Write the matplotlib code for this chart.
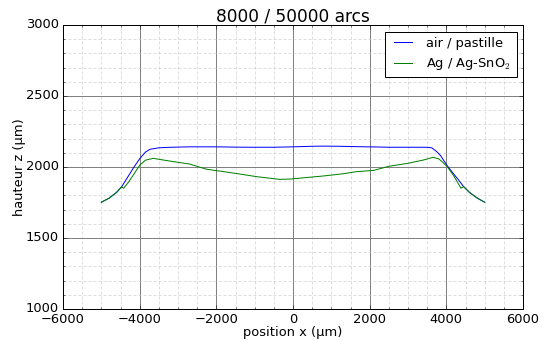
import numpy as np
import matplotlib
matplotlib.use('Agg')
import matplotlib.pyplot as plt
from matplotlib.ticker import MultipleLocator

plt.style.use('classic')
plt.rcParams['font.size'] = 13

# air / pastille
x_air = [-5000, -4800, -4600, -4470, -4300, -4150, -4000, -3850, -3730, -3500,
         -3200, -2700, -2000, -1500, -1100, -500, 0, 500, 800, 1200,
         1700, 2200, 2500, 3000, 3500, 3620, 3750, 3850, 4010, 4150,
         4300, 4450, 4600, 4800, 5000]
z_air = [1752, 1780, 1822, 1861, 1934, 1999, 2058, 2105, 2125, 2135,
         2139, 2142, 2142, 2140, 2139, 2139, 2142, 2146, 2147, 2146,
         2143, 2141, 2139, 2139, 2139, 2135, 2108, 2080, 2014, 1965,
         1915, 1862, 1822, 1782, 1752]

# Ag / Ag-SnO2
x_ag = [-5000, -4800, -4600, -4470, -4420, -4300, -4150, -4000, -3850, -3650,
        -3400, -3100, -2700, -2250, -1800, -1400, -950, -350, -80, 200,
        800, 1300, 1650, 2100, 2500, 3000, 3400, 3650, 3800, 3920,
        4030, 4200, 4380, 4450, 4600, 4800, 5000]
z_ag = [1752, 1780, 1822, 1861, 1850, 1890, 1950, 2012, 2048, 2061,
        2050, 2037, 2021, 1984, 1967, 1951, 1932, 1913, 1915, 1922,
        1937, 1952, 1967, 1976, 2005, 2026, 2049, 2068, 2058, 2030,
        2000, 1935, 1851, 1862, 1822, 1782, 1752]

fig = plt.figure(figsize=(545 / 72, 341 / 72), dpi=72, facecolor='white')
ax = fig.add_axes([63 / 545, 1 - 309 / 341, 460 / 545, 284 / 341])

ax.plot(x_air, z_air, 'b-', label='air / pastille')
ax.plot(x_ag, z_ag, 'g-', label='Ag / Ag-SnO$_2$')

ax.set_xlim(-6000, 6000)
ax.set_ylim(1000, 3000)
ax.xaxis.set_major_locator(MultipleLocator(2000))
ax.xaxis.set_minor_locator(MultipleLocator(500))
ax.yaxis.set_major_locator(MultipleLocator(500))
ax.yaxis.set_minor_locator(MultipleLocator(100))
ax.grid(which='major', color='0.5', linestyle='-', linewidth=1)
ax.grid(which='minor', color='0.78', linestyle=(0, (3, 2)), linewidth=0.6)
ax.set_axisbelow(True)

ax.set_title('8000 / 50000 arcs', fontsize=17, y=0.995)
ax.set_xlabel('position x (µm)', labelpad=0)
ax.set_ylabel('hauteur z (µm)', labelpad=0)
ax.legend(loc='upper right', fontsize=13)

fig.savefig('out.png', dpi=72, facecolor='white')
